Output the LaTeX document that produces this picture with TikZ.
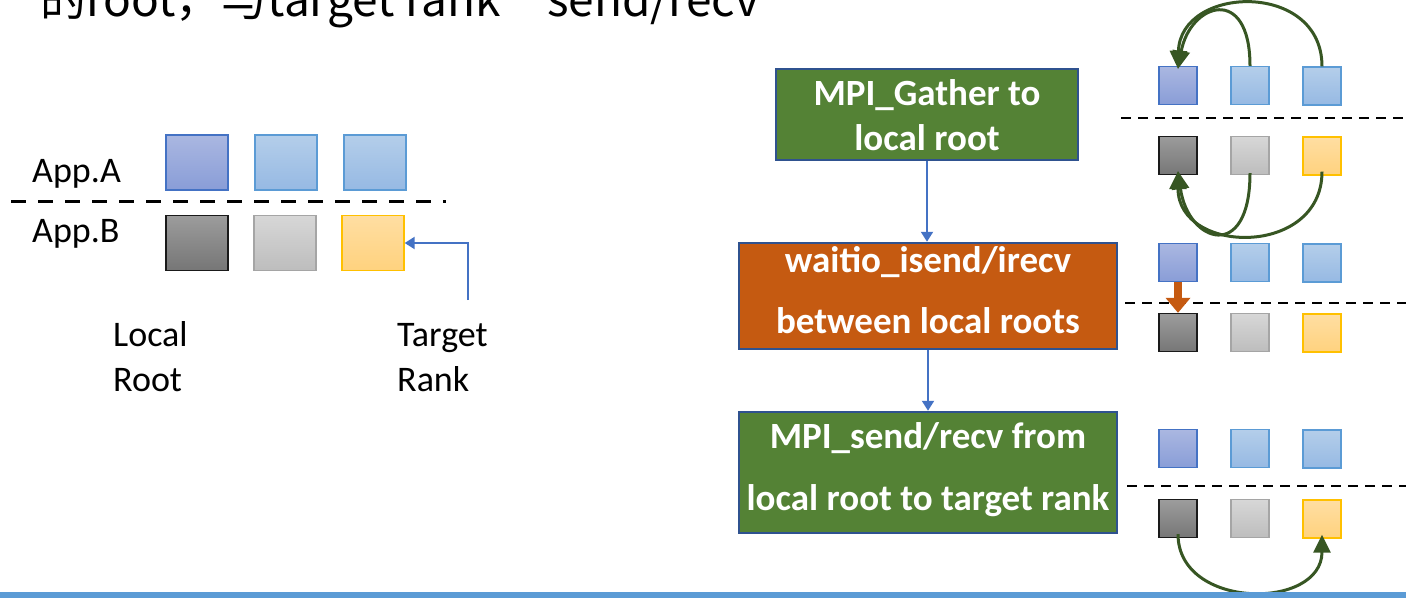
\documentclass[tikz,border=0pt]{standalone}
\usepackage{fontspec}
\setmainfont{Carlito}
\newfontfamily\cjk{Noto Sans CJK SC}
\usetikzlibrary{arrows.meta}

\definecolor{flowgreen}{HTML}{548235}
\definecolor{floworange}{HTML}{C55A11}
\definecolor{flowborder}{HTML}{2F528F}
\definecolor{linkblue}{HTML}{4472C4}
\definecolor{arcgreen}{HTML}{375623}
\definecolor{barblue}{HTML}{5B9BD5}
\definecolor{aOneTop}{HTML}{AAB7E1}
\definecolor{aOneBot}{HTML}{899DD7}
\definecolor{aOneLine}{HTML}{4472C4}
\definecolor{aTwoTop}{HTML}{B4CEEA}
\definecolor{aTwoBot}{HTML}{96B9E3}
\definecolor{aTwoLine}{HTML}{5B9BD5}
\definecolor{bOneTop}{HTML}{9C9C9C}
\definecolor{bOneBot}{HTML}{767676}
\definecolor{bOneLine}{HTML}{1A1A1A}
\definecolor{bTwoTop}{HTML}{D7D7D7}
\definecolor{bTwoBot}{HTML}{BDBDBD}
\definecolor{bTwoLine}{HTML}{A5A5A5}
\definecolor{bThreeTop}{HTML}{FFDEA2}
\definecolor{bThreeBot}{HTML}{FFD27E}
\definecolor{bThreeLine}{HTML}{FFC000}

\tikzset{
  rank/.style={inner sep=0pt, line width=1.3pt},
  bigrank/.style={rank, minimum width=62pt, minimum height=55pt},
  smallrank/.style={rank, minimum width=38pt, minimum height=38pt},
  appAroot/.style={draw=aOneLine, top color=aOneTop, bottom color=aOneBot},
  appAother/.style={draw=aTwoLine, top color=aTwoTop, bottom color=aTwoBot},
  appBroot/.style={draw=bOneLine, top color=bOneTop, bottom color=bOneBot},
  appBmid/.style={draw=bTwoLine, top color=bTwoTop, bottom color=bTwoBot},
  appBtarget/.style={draw=bThreeLine, top color=bThreeTop, bottom color=bThreeBot},
  label/.style={anchor=base west, inner sep=0pt, font=\fontsize{36}{36}\selectfont},
  stagebox/.style={draw=flowborder, line width=2.5pt, inner sep=0pt},
  stagetext/.style={anchor=base, inner sep=0pt, text=white, font=\bfseries\fontsize{37}{37}\selectfont},
  splitline/.style={dashed, line width=2.2pt, dash pattern=on 10pt off 7pt},
  flowlink/.style={draw=linkblue, line width=2pt, -{Triangle[width=12pt,length=10pt]}},
  arc/.style={draw=arcgreen, line width=3pt, -{Triangle[width=17pt,length=18pt]}},
}

\begin{document}
\begin{tikzpicture}[x=1pt, y=-1pt]
\useasboundingbox (0,0) rectangle (1406,598);

% heading line, only its lower part lies on the page
\node[anchor=base west, inner sep=0pt, font=\cjk\fontsize{46}{46}\selectfont] (heading) at (40,16) {的root，与target rank\quad send/recv};

% ---------- left: the two applications ----------
\node[label] (appA) at (32,182) {App.A};
\node[label] (appB) at (32,242) {App.B};
\draw[dashed, line width=3pt, dash pattern=on 15pt off 12pt] (11,201) coordinate (splitL) -- (446,201) coordinate (splitR);

\node[bigrank, appAroot]  (la1) at (197,162.5) {};
\node[bigrank, appAother] (la2) at (286,162.5) {};
\node[bigrank, appAother] (la3) at (375,162.5) {};
\node[bigrank, appBroot]  (lb1) at (197,243) {};
\node[bigrank, appBmid]   (lb2) at (285,243) {};
\node[bigrank, appBtarget](lb3) at (373,243) {};

\coordinate (tgtfoot) at (468,300);
\draw[flowlink] (tgtfoot) |- (lb3.east);

\node[label] (localA) at (113,346) {Local};
\node[label] (localB) at (113,391) {Root};
\node[label] (targetA) at (397,346) {Target};
\node[label] (targetB) at (397,391) {Rank};

% ---------- middle: the three stages ----------
\node[stagebox, fill=flowgreen, minimum width=302pt, minimum height=91pt] (stage1) at (927,114.5) {};
\node[stagebox, fill=floworange, minimum width=378pt, minimum height=106pt] (stage2) at (928,296) {};
\node[stagebox, fill=flowgreen, minimum width=378pt, minimum height=121pt] (stage3) at (928,472.5) {};

\node[stagetext] (s1a) at (927,105) {MPI\_Gather to};
\node[stagetext] (s1b) at (927,150) {local root};
\node[stagetext] (s2a) at (928,272) {waitio\_isend/irecv};
\node[stagetext] (s2b) at (928,333) {between local roots};
\node[stagetext] (s3a) at (928,448) {MPI\_send/recv from};
\node[stagetext] (s3b) at (928,510) {local root to target rank};

\draw[flowlink] (stage1.south) -- (stage1.south |- stage2.north);
\draw[flowlink] (stage2.south) -- (stage2.south |- stage3.north);

% ---------- right: ranks for each stage ----------
% stage 1
\node[smallrank, appAroot]   (ga1) at (1178,85.5) {};
\node[smallrank, appAother]  (ga2) at (1250,85.5) {};
\node[smallrank, appAother]  (ga3) at (1322,86) {};
\node[smallrank, appBroot]   (gb1) at (1178,155.5) {};
\node[smallrank, appBmid]    (gb2) at (1250,155.5) {};
\node[smallrank, appBtarget] (gb3) at (1322,156) {};
\draw[splitline] (1121,118) -- (1406,118);

% stage 2
\node[smallrank, appAroot]   (wa1) at (1178,262.5) {};
\node[smallrank, appAother]  (wa2) at (1250,262.5) {};
\node[smallrank, appAother]  (wa3) at (1322,263) {};
\node[smallrank, appBroot]   (wb1) at (1178,332.5) {};
\node[smallrank, appBmid]    (wb2) at (1250,332.5) {};
\node[smallrank, appBtarget] (wb3) at (1322,333) {};
\draw[splitline] (1125,303) -- (1406,303);

% stage 3
\node[smallrank, appAroot]   (ma1) at (1178,448.5) {};
\node[smallrank, appAother]  (ma2) at (1250,448.5) {};
\node[smallrank, appAother]  (ma3) at (1322,449) {};
\node[smallrank, appBroot]   (mb1) at (1178,518.5) {};
\node[smallrank, appBmid]    (mb2) at (1250,518.5) {};
\node[smallrank, appBtarget] (mb3) at (1322,519) {};
\draw[splitline] (1127,486) -- (1406,486);

% gather arcs into the local roots
\draw[arc] (ga2.north) .. controls +(0,-82) and +(12,-66) .. ([yshift=-3pt]ga1.north);
\draw[arc] (ga3.north) .. controls +(0,-86) and +(2,-84) .. ([yshift=-3pt]ga1.north);
\draw[arc] ([yshift=2pt]gb2.south) .. controls +(0,90) and +(10,72) .. ([yshift=4pt]gb1.south);
\draw[arc] ([yshift=4pt]gb3.south) .. controls +(0,86) and +(0,84) .. ([yshift=4pt]gb1.south);

% exchange between the local roots
\draw[draw=floworange, line width=8pt, -{Triangle[width=24pt,length=15pt]}] (wa1.south) -- (wb1.north);

% local root to target rank
\draw[arc] ([yshift=4pt]mb1.south) .. controls +(0,76) and +(0,76) .. ([yshift=4pt]mb3.south);

% bottom rule
\fill[barblue] (0,592) rectangle (1406,598);
\end{tikzpicture}
\end{document}
